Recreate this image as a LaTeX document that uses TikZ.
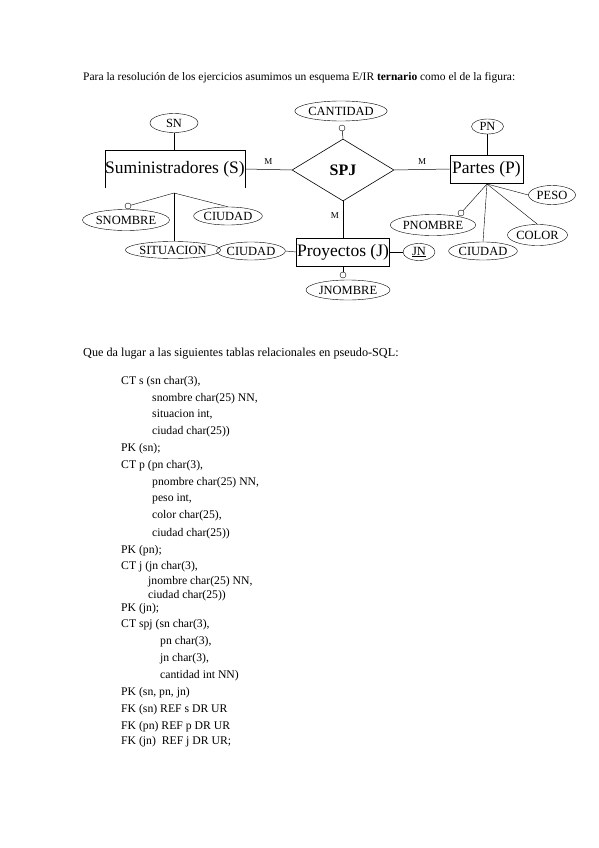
\documentclass[tikz,border=0pt]{standalone}
\usepackage{fontspec}
\setmainfont{Liberation Serif}
\usetikzlibrary{shapes.geometric}
\begin{document}
\begin{tikzpicture}[x=1pt,y=-1pt,
  attr/.style={draw,ellipse,line width=0.4pt,inner sep=0pt,font=\fontsize{12.5}{13}\selectfont},
  ent/.style={draw,rectangle,line width=0.6pt,inner sep=0pt,font=\fontsize{17.5}{19}\selectfont},
  rel/.style={draw,diamond,line width=0.6pt,inner sep=0pt,font=\fontsize{16}{18}\selectfont\bfseries},
  opt/.style={draw,circle,line width=0.4pt,inner sep=0pt,minimum size=6pt},
  card/.style={font=\fontsize{9}{10}\selectfont,inner sep=0pt},
  conn/.style={line width=0.5pt},
  thinconn/.style={line width=0.4pt},
  txt/.style={anchor=base west,inner sep=0pt,font=\fontsize{11.5}{13}\selectfont},
  code/.style={anchor=base west,inner sep=0pt,font=\fontsize{11.7}{13}\selectfont}]
\useasboundingbox[fill=white] (0,0) rectangle (599,848);

\node[txt] (intro) at (83,81) {Para la resolución de los ejercicios asumimos un esquema E/IR \textbf{ternario} como el de la figura:};

% relationship
\node[rel,minimum width=102pt,minimum height=62pt] (spj) at (343,170) {SPJ};
\node[attr,minimum width=86pt,minimum height=20pt] (cant) at (341,111) {CANTIDAD};
\node[opt] (cantc) at (342,128) {};
\draw[conn] (cantc) -- (spj.north);

% Suministradores
\node[inner sep=0pt,minimum width=140pt,minimum height=38pt,font=\fontsize{17.5}{19}\selectfont] (S) at (175,169) {Suministradores (S)};
\draw[conn] (S.south west) -- (S.north west) -- (S.north east) -- (S.south east);
\node[attr,minimum width=48pt,minimum height=19pt] (sn) at (174,123) {SN};
\draw[thinconn] (sn.south) -- (sn.south |- S.north);
\draw[conn] (S.east) -- (spj.west) node[card,pos=0.5,above=5pt] (m1) {M};
\coordinate (Sh) at (174,193);
\node[opt] (snc) at (128,206) {};
\node[attr,minimum width=87pt,minimum height=21pt] (snom) at (126,220) {SNOMBRE};
\node[attr,minimum width=60pt,minimum height=18pt] (sciud) at (228,216) {CIUDAD};
\node[attr,minimum width=92pt,minimum height=17pt] (sit) at (173,250) {SITUACION};
\draw[thinconn] (Sh) -- (snc);
\draw[thinconn] (Sh) -- (sciud.north);
\draw[thinconn] (Sh) -- (Sh |- sit.north);

% Partes
\node[ent,minimum width=73pt,minimum height=28pt] (P) at (486.5,169) {Partes (P)};
\node[attr,minimum width=32pt,minimum height=15pt] (pn) at (487.5,126.5) {PN};
\draw[thinconn] (pn.south) -- (pn.south |- P.north);
\draw[conn] (spj.east) -- (P.west) node[card,pos=0.5,above=5pt] (m2) {M};
\coordinate (Ph) at (487,184);
\node[attr,minimum width=47pt,minimum height=19pt] (peso) at (552,195) {PESO};
\node[attr,minimum width=60pt,minimum height=21pt] (color) at (537.5,235) {COLOR};
\node[attr,minimum width=61pt,minimum height=18pt] (pciud) at (483,251) {CIUDAD};
\node[attr,minimum width=82pt,minimum height=21pt] (pnom) at (433,225) {PNOMBRE};
\node[opt] (pnc) at (461,213) {};
\draw[thinconn] (Ph) -- (peso.west);
\draw[thinconn] (Ph) -- (color.north);
\draw[thinconn] (Ph) -- (pciud.north);
\draw[thinconn] (Ph) -- (pnc);

% Proyectos
\node[ent,minimum width=93pt,minimum height=28pt] (J) at (343,252) {Proyectos (J)};
\draw[conn] (spj.south) -- (J.north) node[card,pos=0.4,left=4pt] (m3) {M};
\node[attr,minimum width=58pt,minimum height=18pt] (jciud) at (251,251) {CIUDAD};
\node[attr,minimum width=32pt,minimum height=17pt] (jn) at (419,252) {\underline{JN}};
\node[opt] (jnc) at (343,275) {};
\node[attr,minimum width=84pt,minimum height=20pt] (jnom) at (348,290) {JNOMBRE};
\draw[thinconn] (jciud.east) -- (J.west);
\draw[thinconn] (J.east) -- (jn.west);
\draw[thinconn] (J.south) -- (jnc);

% text
\node[txt,font=\fontsize{12.2}{13}\selectfont] (que) at (83,356) {Que da lugar a las siguientes tablas relacionales en pseudo-SQL:};
\node[code] (l1) at (121,384) {CT s (sn char(3),};
\node[code] (l2) at (152,401) {snombre char(25) NN,};
\node[code] (l3) at (152,417) {situacion int,};
\node[code] (l4) at (152,434) {ciudad char(25))};
\node[code] (l5) at (121,451) {PK (sn);};
\node[code] (l6) at (121,468) {CT p (pn char(3),};
\node[code] (l7) at (152,485) {pnombre char(25) NN,};
\node[code] (l8) at (152,501) {peso int,};
\node[code] (l9) at (152,518) {color char(25),};
\node[code] (l10) at (152,536) {ciudad char(25))};
\node[code] (l11) at (121,553) {PK (pn);};
\node[code] (l12) at (121,569) {CT j (jn char(3),};
\node[code] (l13) at (148,584) {jnombre char(25) NN,};
\node[code] (l14) at (148,598) {ciudad char(25))};
\node[code] (l15) at (121,611) {PK (jn);};
\node[code] (l16) at (121,627) {CT spj (sn char(3),};
\node[code] (l17) at (160,644) {pn char(3),};
\node[code] (l18) at (160,661) {jn char(3),};
\node[code] (l19) at (160,678) {cantidad int NN)};
\node[code] (l20) at (121,695) {PK (sn, pn, jn)};
\node[code] (l21) at (121,712) {FK (sn) REF s DR UR};
\node[code] (l22) at (121,729) {FK (pn) REF p DR UR};
\node[code] (l23) at (121,744) {FK (jn)\ \ REF j DR UR;};
\end{tikzpicture}
\end{document}
